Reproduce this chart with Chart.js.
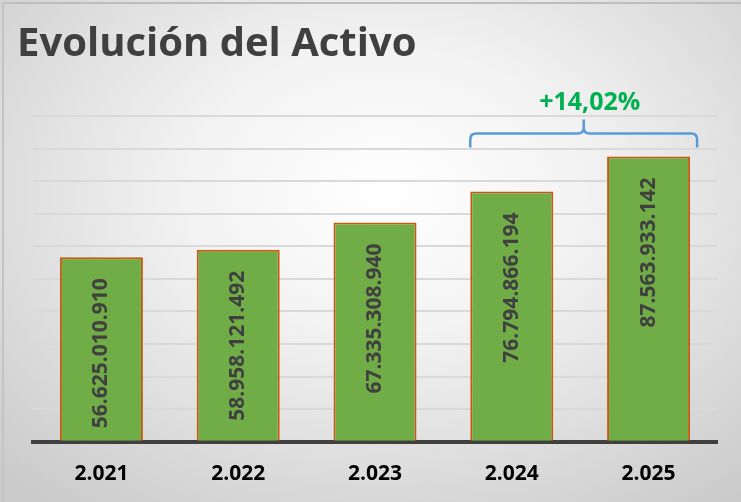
<!DOCTYPE html>
<html lang="es">
<head>
  <meta charset="UTF-8">
  <title>Evolución del Activo</title>
  <script src="https://cdn.jsdelivr.net/npm/chart.js"></script>
  <style>
    html, body { margin: 0; padding: 0; }
    body { width: 741px; height: 502px; overflow: hidden;
      background: radial-gradient(ellipse 75% 80% at 52% 38%, #ffffff 0%, #f3f3f3 35%, #d6d6d6 80%, #cacaca 100%); }
    .frame { position: absolute; left: 2px; top: 2px; right: 0; bottom: 0; border-top: 2px solid #bdbdbd; border-left: 2px solid #c4c4c4; }
    .chart-box { position: absolute; left: 0; top: 0; width: 741px; height: 502px; }
  </style>
</head>
<body>
  <div class="frame"></div>
  <div class="chart-box"><canvas id="activoChart"></canvas></div>
  <script>
    const years = ['2.021', '2.022', '2.023', '2.024', '2.025'];
    const activo = [56625010910, 58958121492, 67335308940, 76794866194, 87563933142];
    const chartTitle = 'Evolución del Activo';

    function fmtMiles(v) {
      return String(v).replace(/\B(?=(\d{3})+(?!\d))/g, '.');
    }

    // variación del último año respecto al anterior
    const n = activo.length;
    const variacion = (activo[n - 1] / activo[n - 2] - 1) * 100;
    const variacionTxt = '+' + variacion.toFixed(2).replace('.', ',') + '%';

    const titlePlugin = {
      id: 'bigTitle',
      afterDraw(chart) {
        const ctx = chart.ctx;
        ctx.save();
        ctx.fillStyle = '#404040';
        ctx.font = 'bold 40px "Open Sans", sans-serif';
        ctx.textBaseline = 'alphabetic';
        ctx.fillText(chartTitle, 17, 56);
        ctx.restore();
      }
    };

    const valueLabels = {
      id: 'valueLabels',
      afterDatasetsDraw(chart) {
        const ctx = chart.ctx;
        const meta = chart.getDatasetMeta(0);
        ctx.save();
        ctx.fillStyle = '#404040';
        ctx.font = 'bold 21px "Open Sans", sans-serif';
        ctx.textAlign = 'right';
        ctx.textBaseline = 'middle';
        meta.data.forEach((bar, i) => {
          ctx.save();
          ctx.translate(bar.x, bar.y + 21);
          ctx.rotate(-Math.PI / 2);
          ctx.fillText(fmtMiles(activo[i]), 0, 0);
          ctx.restore();
        });
        ctx.restore();
      }
    };

    // llave sobre los dos últimos años
    const bracketPlugin = {
      id: 'bracket',
      afterDatasetsDraw(chart) {
        const ctx = chart.ctx;
        const meta = chart.getDatasetMeta(0);
        const b1 = meta.data[n - 2], b2 = meta.data[n - 1];
        const x1 = b1.x - b1.width / 2;
        const x2 = b2.x + b2.width / 2 + 7;
        const yEnd = b2.y - 9;
        const yMid = yEnd - 14;
        const yTip = yMid - 14;
        const xc = (x1 + x2) / 2;
        const r = 6;
        ctx.save();
        ctx.strokeStyle = '#5B9BD5';
        ctx.lineWidth = 2.5;
        ctx.beginPath();
        ctx.moveTo(x1, yEnd);
        ctx.lineTo(x1, yMid + r);
        ctx.quadraticCurveTo(x1, yMid, x1 + r, yMid);
        ctx.lineTo(xc - r, yMid);
        ctx.quadraticCurveTo(xc, yMid, xc, yMid - r);
        ctx.lineTo(xc, yTip);
        ctx.moveTo(xc, yMid - r);
        ctx.quadraticCurveTo(xc, yMid, xc + r, yMid);
        ctx.lineTo(x2 - r, yMid);
        ctx.quadraticCurveTo(x2, yMid, x2, yMid + r);
        ctx.lineTo(x2, yEnd);
        ctx.stroke();

        ctx.fillStyle = '#00B050';
        ctx.font = 'bold 25px "Open Sans", sans-serif';
        ctx.textAlign = 'center';
        ctx.textBaseline = 'alphabetic';
        ctx.fillText(variacionTxt, xc + 6, yTip - 10);
        ctx.restore();
      }
    };

    new Chart(document.getElementById('activoChart'), {
      type: 'bar',
      data: {
        labels: years,
        datasets: [{
          data: activo,
          backgroundColor: '#70AD47',
          borderColor: '#C55A11',
          borderWidth: 2,
          categoryPercentage: 1,
          barPercentage: 0.607
        }]
      },
      options: {
        responsive: true,
        maintainAspectRatio: false,
        animation: false,
        layout: { padding: { left: 33, right: 24, top: 116, bottom: 3 } },
        plugins: { legend: { display: false }, title: { display: false }, tooltip: { enabled: false } },
        scales: {
          x: {
            grid: { display: false },
            border: { color: '#404040', width: 4 },
            ticks: { color: '#000', padding: 12, font: { family: 'Open Sans', size: 21, weight: 'bold' } }
          },
          y: {
            min: 0, max: 100000000000,
            ticks: { display: false, stepSize: 10000000000 },
            border: { display: false },
            grid: { color: '#d9d9d9', lineWidth: 2, drawTicks: false }
          }
        }
      },
      plugins: [titlePlugin, valueLabels, bracketPlugin]
    });
  </script>
</body>
</html>
